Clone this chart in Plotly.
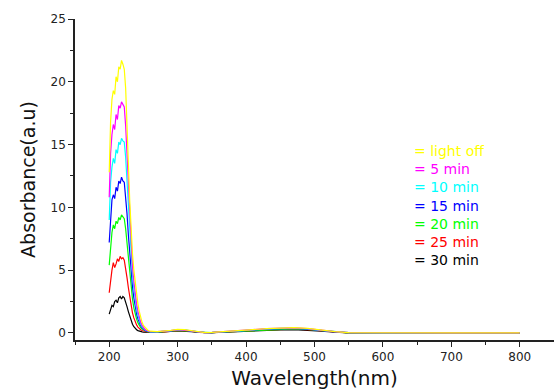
import plotly.graph_objects as go

# Wavelength grid (nm)
wavelength = [200, 202, 204, 206, 208, 210, 212, 214, 216, 218, 220,
              222, 224, 226, 228, 230, 232, 234, 236, 238, 240,
              242, 244, 246, 248, 250, 252, 254, 256, 258, 260,
              270, 280, 290, 300, 310, 320, 330, 340, 350, 370, 390,
              410, 430, 450, 470, 490, 510, 530, 550, 600, 700, 800]

abs_30min = [1.5, 1.9, 2.2, 2.1, 2.5, 2.6, 2.4, 2.8, 2.9, 2.7, 2.9,
             2.8, 2.5, 2.1, 1.7, 1.3, 0.95, 0.7, 0.5, 0.36, 0.26,
             0.19, 0.14, 0.11, 0.09, 0.07, 0.06, 0.05, 0.05, 0.04, 0.04,
             0.05, 0.07, 0.12, 0.17, 0.16, 0.11, 0.05, 0.02, 0.03, 0.07, 0.12,
             0.17, 0.22, 0.25, 0.26, 0.22, 0.14, 0.06, 0.01, 0, 0, 0]
abs_25min = [3.2, 4.2, 5.0, 5.6, 5.2, 5.5, 5.9, 5.7, 6.1, 5.9, 6.0,
             5.8, 5.2, 4.4, 3.6, 2.8, 2.1, 1.6, 1.2, 0.88, 0.64,
             0.47, 0.35, 0.26, 0.2, 0.15, 0.12, 0.1, 0.08, 0.07, 0.06,
             0.06, 0.08, 0.14, 0.19, 0.18, 0.12, 0.06, 0.02, 0.03, 0.07, 0.13,
             0.19, 0.25, 0.29, 0.3, 0.26, 0.16, 0.07, 0.01, 0, 0, 0]
abs_20min = [5.4, 7.0, 8.0, 8.6, 8.3, 8.9, 8.7, 9.2, 9.0, 9.4, 9.2,
             9.1, 8.3, 7.1, 5.8, 4.6, 3.6, 2.7, 2.0, 1.5, 1.1,
             0.8, 0.58, 0.42, 0.31, 0.23, 0.18, 0.14, 0.11, 0.09, 0.07,
             0.07, 0.09, 0.15, 0.21, 0.2, 0.14, 0.06, 0.02, 0.03, 0.08, 0.14,
             0.21, 0.27, 0.31, 0.33, 0.28, 0.17, 0.08, 0.01, 0, 0, 0]
abs_15min = [7.2, 9.5, 10.6, 11.0, 10.7, 11.6, 11.3, 12.1, 11.9, 12.4, 12.1,
             12.0, 11.0, 9.5, 7.8, 6.2, 4.8, 3.7, 2.8, 2.1, 1.5,
             1.1, 0.8, 0.57, 0.42, 0.3, 0.22, 0.17, 0.13, 0.1, 0.08,
             0.08, 0.1, 0.17, 0.23, 0.22, 0.15, 0.07, 0.03, 0.03, 0.08, 0.15,
             0.23, 0.3, 0.34, 0.36, 0.31, 0.19, 0.08, 0.02, 0, 0, 0]
abs_10min = [9.0, 12.0, 13.2, 13.9, 13.5, 14.6, 14.3, 15.2, 15.0, 15.5, 15.3,
             15.2, 14.0, 12.0, 9.8, 7.8, 6.0, 4.6, 3.5, 2.6, 1.9,
             1.4, 1.0, 0.7, 0.5, 0.36, 0.26, 0.2, 0.15, 0.11, 0.09,
             0.09, 0.11, 0.18, 0.25, 0.24, 0.16, 0.07, 0.03, 0.04, 0.09, 0.16,
             0.25, 0.32, 0.37, 0.39, 0.33, 0.2, 0.09, 0.02, 0, 0, 0]
abs_5min = [10.8, 14.3, 15.8, 16.6, 16.2, 17.4, 17.0, 18.1, 17.9, 18.4, 18.2,
            18.0, 16.5, 14.0, 11.5, 9.0, 7.0, 5.3, 4.1, 3.1, 2.3,
            1.7, 1.2, 0.85, 0.6, 0.42, 0.3, 0.22, 0.16, 0.12, 0.1,
            0.1, 0.12, 0.19, 0.27, 0.25, 0.17, 0.08, 0.03, 0.04, 0.1, 0.17,
            0.26, 0.34, 0.39, 0.41, 0.35, 0.21, 0.1, 0.02, 0, 0, 0]
abs_light_off = [12.8, 16.8, 18.6, 19.3, 19.0, 20.4, 20.0, 21.2, 21.0, 21.7, 21.4,
                 21.0, 19.5, 17.0, 13.5, 10.5, 8.0, 6.3, 5.0, 3.9, 3.0,
                 2.3, 1.7, 1.2, 0.85, 0.6, 0.45, 0.32, 0.24, 0.18, 0.14,
                 0.1, 0.12, 0.2, 0.28, 0.26, 0.18, 0.08, 0.03, 0.04, 0.1, 0.18,
                 0.27, 0.35, 0.4, 0.42, 0.36, 0.22, 0.1, 0.02, 0, 0, 0]

series_labels = ["light off", "5 min", "10 min", "15 min", "20 min", "25 min", "30 min"]
series_values = [abs_light_off, abs_5min, abs_10min, abs_15min, abs_20min, abs_25min, abs_30min]
series_colors = ["#FFFF00", "#FF00FF", "#00FFFF", "#0000FF", "#00FF00", "#FF0000", "#000000"]

x_ticks = [200, 300, 400, 500, 600, 700, 800]
y_ticks = [0, 5, 10, 15, 20, 25]

FONT = "DejaVu Sans"

fig = go.Figure()
# draw 30 min first, light off last (on top)
for label, vals, col in reversed(list(zip(series_labels, series_values, series_colors))):
    fig.add_trace(go.Scatter(x=wavelength, y=vals, mode="lines", name=label,
                             line=dict(color=col, width=1.2), showlegend=False))

# legend drawn as one multi-line coloured text block
legend_text = "<br>".join(
    "<span style='color:%s'>= %s</span>" % (col, label)
    for label, col in zip(series_labels, series_colors))
fig.add_annotation(
    text=legend_text, x=0.703, y=0.62, xref="paper", yref="paper",
    xanchor="left", yanchor="top", align="left", showarrow=False,
    font=dict(family=FONT, size=14, color="#000"))

fig.update_layout(
    width=554, height=390,
    margin=dict(l=75, r=0, t=19, b=50),
    paper_bgcolor="white", plot_bgcolor="white",
    font=dict(family=FONT, color="#222222"),
    xaxis=dict(
        range=[150, 850], tickvals=x_ticks, ticks="outside", ticklen=5, tickwidth=1.2,
        tickcolor="#222", showline=True, linecolor="#222", linewidth=1.5,
        showgrid=False, zeroline=False, tickfont=dict(size=12, color="#222"),
        minor=dict(dtick=50, tick0=150, ticks="outside", ticklen=3, tickcolor="#222", showgrid=False),
        title=dict(text="Wavelength(nm)", font=dict(size=20, color="#111"), standoff=8),
    ),
    yaxis=dict(
        range=[-0.56, 25], tickvals=y_ticks, ticks="outside", ticklen=5, tickwidth=1.2,
        tickcolor="#222", showline=True, linecolor="#222", linewidth=1.5,
        showgrid=False, zeroline=False, tickfont=dict(size=12, color="#222"),
        minor=dict(dtick=2.5, tick0=0, ticks="outside", ticklen=3, tickcolor="#222", showgrid=False),
        title=dict(text="Absorbance(a.u)", font=dict(size=19, color="#111"), standoff=10),
    ),
)

fig.write_html("out.html")
